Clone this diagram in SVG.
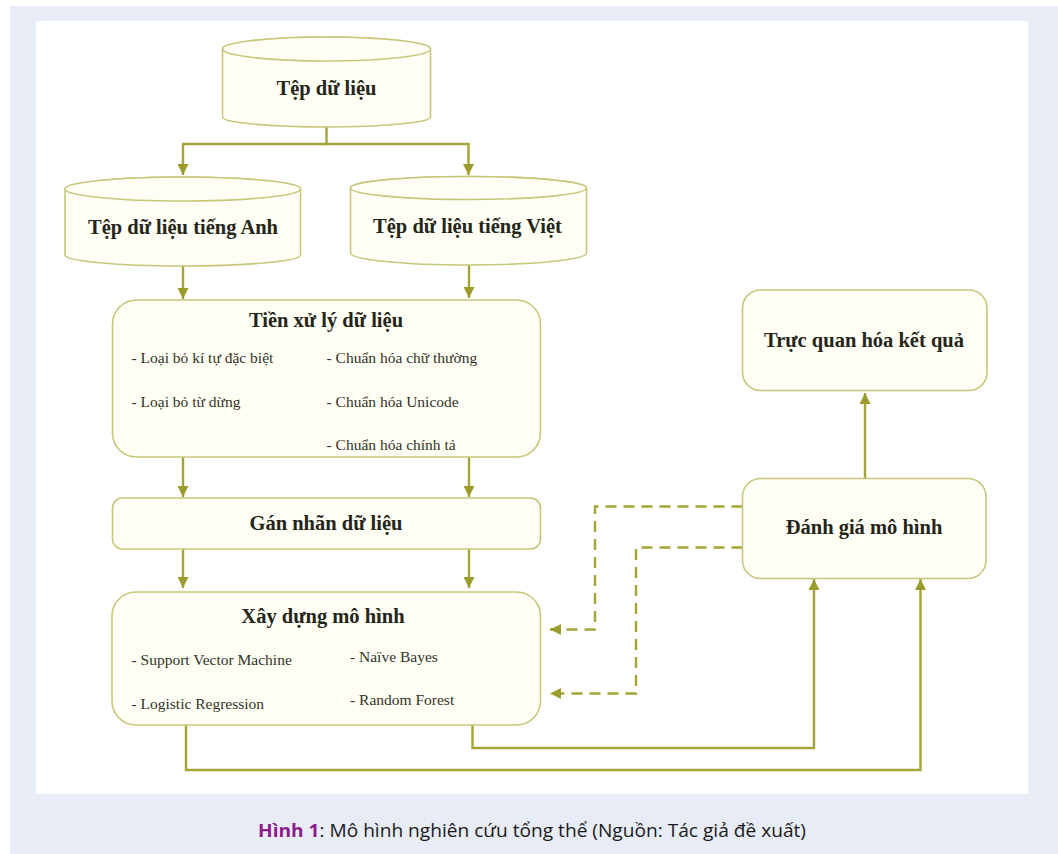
<svg xmlns="http://www.w3.org/2000/svg" width="1058" height="854" viewBox="0 0 1058 854">
<defs>
<style>
.node{fill:#fefef4;stroke:#c7c77c;stroke-width:1.6}
.title{font-family:"Liberation Serif",serif;font-weight:bold;font-size:20.5px;fill:#25251a;text-anchor:middle}
.item{font-family:"Liberation Serif",serif;font-size:15.5px;fill:#33332a}
.conn{fill:none;stroke:#a4a437;stroke-width:2.4}
.dash{stroke-dasharray:11 7}
.cap{font-family:"Open Sans","Noto Sans",sans-serif;font-size:17.5px;fill:#1a1a1a;text-anchor:middle}
</style>
<marker id="ah" viewBox="0 0 10 10" refX="10" refY="5" markerWidth="11" markerHeight="11" markerUnits="userSpaceOnUse" orient="auto">
<path d="M0,0 L10,5 L0,10 z" fill="#9c9c2c"/>
</marker>
</defs>
<rect x="0" y="0" width="1058" height="854" fill="#ffffff"/>
<rect x="10" y="6" width="1048" height="848" fill="#e8ecf6"/>
<rect x="36" y="21" width="992" height="773" fill="#ffffff"/>

<g id="connectors">
<path class="conn" d="M326.5,127 V144 H183 V175" marker-end="url(#ah)"/>
<path class="conn" d="M326.5,144 H468.5 V175" marker-end="url(#ah)"/>
<path class="conn" d="M183,266 V299" marker-end="url(#ah)"/>
<path class="conn" d="M469,265 V298" marker-end="url(#ah)"/>
<path class="conn" d="M183,457 V497" marker-end="url(#ah)"/>
<path class="conn" d="M469,457 V497" marker-end="url(#ah)"/>
<path class="conn" d="M183,549 V588" marker-end="url(#ah)"/>
<path class="conn" d="M469,549 V588" marker-end="url(#ah)"/>
<path class="conn" d="M186,725 V770 H920.5 V579" marker-end="url(#ah)"/>
<path class="conn" d="M472.5,725 V748 H814 V579" marker-end="url(#ah)"/>
<path class="conn" d="M865,478 V393" marker-end="url(#ah)"/>
<path class="conn dash" d="M742.5,506.5 H595 V629.5 H550" marker-end="url(#ah)"/>
<path class="conn dash" d="M742.5,547.5 H636 V693.5 H550" marker-end="url(#ah)"/>
</g>

<g id="tep-du-lieu">
<path class="node" d="M222.5,49 V117 A104,10 0 0 0 430.5,117 V49 A104,12 0 0 0 222.5,49 Z"/>
<ellipse class="node" cx="326.5" cy="49" rx="104" ry="12"/>
<text class="title" x="326.5" y="95">Tệp dữ liệu</text>
</g>

<g id="tep-tieng-anh">
<path class="node" d="M65,189 V255 A117.75,11 0 0 0 300.5,255 V189 A117.75,12 0 0 0 65,189 Z"/>
<ellipse class="node" cx="182.75" cy="189" rx="117.75" ry="12"/>
<text class="title" x="183" y="234">Tệp dữ liệu tiếng Anh</text>
</g>

<g id="tep-tieng-viet">
<path class="node" d="M350.5,188 V253 A118,12 0 0 0 586.5,253 V188 A118,11.5 0 0 0 350.5,188 Z"/>
<ellipse class="node" cx="468.5" cy="188" rx="118" ry="11.5"/>
<text class="title" x="467.5" y="233">Tệp dữ liệu tiếng Việt</text>
</g>

<g id="tien-xu-ly">
<rect class="node" x="112.5" y="300" width="428" height="157" rx="24"/>
<text class="title" x="326" y="327">Tiền xử lý dữ liệu</text>
<text class="item" x="131.5" y="363">- Loại bỏ kí tự đặc biệt</text>
<text class="item" x="326.5" y="363">- Chuẩn hóa chữ thường</text>
<text class="item" x="131.5" y="407">- Loại bỏ từ dừng</text>
<text class="item" x="326.5" y="407">- Chuẩn hóa Unicode</text>
<text class="item" x="326.5" y="450">- Chuẩn hóa chính tả</text>
</g>

<g id="gan-nhan">
<rect class="node" x="112.5" y="498" width="428" height="51" rx="10"/>
<text class="title" x="326" y="530">Gán nhãn dữ liệu</text>
</g>

<g id="xay-dung">
<rect class="node" x="112" y="592" width="428.5" height="133" rx="24"/>
<text class="title" x="323" y="623">Xây dựng mô hình</text>
<text class="item" x="131.5" y="665">- Support Vector Machine</text>
<text class="item" x="350" y="662">- Naïve Bayes</text>
<text class="item" x="131.5" y="708.5">- Logistic Regression</text>
<text class="item" x="350" y="705">- Random Forest</text>
</g>

<g id="truc-quan">
<rect class="node" x="742.5" y="290" width="244.5" height="100.5" rx="18"/>
<text class="title" x="864" y="347">Trực quan hóa kết quả</text>
</g>

<g id="danh-gia">
<rect class="node" x="742.5" y="478.5" width="243.5" height="100" rx="18"/>
<text class="title" x="864" y="534">Đánh giá mô hình</text>
</g>

<text class="cap" x="532" y="837" textLength="548" lengthAdjust="spacingAndGlyphs"><tspan font-weight="bold" fill="#8e1b8e">Hình 1</tspan>: Mô hình nghiên cứu tổng thể (Nguồn: Tác giả đề xuất)</text>
</svg>
